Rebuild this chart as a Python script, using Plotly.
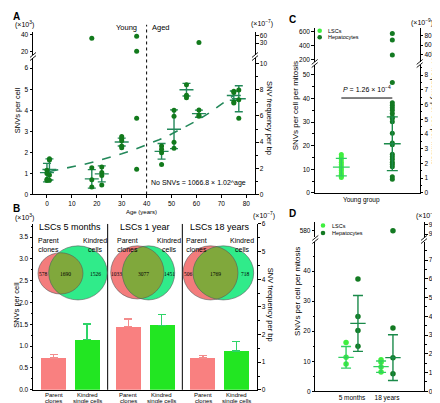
import numpy as np
import plotly.graph_objects as go

W, H = 440, 403
def fx(px): return px / W
def fy(py): return 1 - py / H

FONT = "Liberation Sans, Arial, sans-serif"
SERIF = "Liberation Serif, serif"

# ---------------- DATA ----------------
# Panel A : SNVs per cell (x10^3) vs donor age
A_ages  = [0, 1, 18, 22, 30, 46, 51, 56, 61, 75, 77]
A_points = [
    [1.15, 1.00, 0.72, 0.66],
    [1.70, 1.64, 0.92, 0.68],
    [1.27, 0.70, 0.35],
    [1.30, 1.05, 0.90, 0.45],
    [2.75, 2.65, 2.55, 2.30, 2.22],
    [2.30, 2.15, 1.98, 1.43],
    [4.00, 3.72, 2.48, 2.20],
    [5.22, 4.72, 4.60],
    [4.02, 3.78, 3.72],
    [4.90, 4.85, 4.40, 4.35],
    [4.97, 4.50, 3.62],
]
A_means = [1.04, 1.19, 0.74, 0.98, 2.49, 2.05, 3.10, 4.98, 3.84, 4.70, 4.55]
A_sds   = [0.44, 0.50, 0.44, 0.38, 0.19, 0.37, 0.92, 0.30, 0.17, 0.22, 0.62]
A_single_ages = [36, 36]
A_single_vals = [3.62, 1.20]
A_high_ages = [18, 36, 36, 61]
A_high_vals = [35.9, 38.4, 20.0, 30.8]
FIT_A, FIT_B = 1066.8, 1.02          # No SNVs = 1066.8 x 1.02^age
A_fit_ages = [1, 5, 10, 15, 20, 25, 30, 35, 40, 45, 50, 55, 60, 65, 70, 75]
A_xticks = [0, 10, 20, 30, 40, 50, 60, 70, 80]

# Panel B : SNVs per cell (x10^3), parent clones vs kindred single cells
B_titles = ["LSCs 5 months", "LSCs 1 year", "LSCs 18 years"]
B_cats = [("Parent", "clones"), ("Kindred", "single cells")]
B_parent = [0.73, 1.45, 0.73]
B_parent_err = [0.08, 0.17, 0.06]
B_kindred = [1.15, 1.48, 0.89]
B_kindred_err = [0.36, 0.25, 0.22]
B_venn_parent_only = [578, 1033, 506]
B_venn_shared = [1690, 3077, 1769]
B_venn_kindred_only = [1526, 1451, 718]

# Panel C : SNVs per cell per mitosis, young group
C_lsc = [16.2, 15.2, 14.0, 13.0, 12.0, 11.0, 10.2, 9.5, 8.5, 7.8, 7.0, 6.5]
C_lsc_mean, C_lsc_sd = 10.9, 3.7
C_hep = [46.8, 38.2, 37.1, 36.1, 35.0, 33.6, 32.2, 31.5, 30.1, 25.3, 21.1, 20.4,
         16.3, 15.3, 14.2, 13.0, 12.1, 11.1, 6.8, 5.8]
C_hep_high = [573, 480, 265]
C_hep_mean, C_hep_sd = 20.8, 11.4
C_pvalue = "1.26 × 10<sup>−4</sup>"

# Panel D : SNVs per cell per mitosis, 5 months vs 18 years
D_groups = ["5 months", "18 years"]
D_lsc = [[16.2, 11.3, 9.1], [10.5, 9.7, 8.1, 6.4]]
D_lsc_mean = [11.3, 8.2]
D_lsc_sd = [3.6, 1.9]
D_hep = [[37.4, 24.9, 20.2, 15.0], [21.1, 11.2, 5.8]]
D_hep_mean = [22.6, 11.2]
D_hep_sd = [9.3, 7.6]
D_hep_high = [None, 580]

# ---------------- STYLE ----------------
A_DOT = "#127a1c"; A_ERR = "#23885a"
LSC_DOT = "#3fef3f"; LSC_ERR = "#30d060"
HEP_DOT = "#137a22"; HEP_ERR = "#1a8a4a"
PAR_BAR = "#f98080"; PAR_ERR = "#f38c8c"
KIN_BAR = "#22e622"; KIN_ERR = "#2ed468"
V_RED = "#f37c7c"; V_GREEN = "#30eb8a"; V_BOTH = "#80a83c"

def ax(**kw):
    d = dict(showline=True, linecolor="black", linewidth=1, ticks="outside", ticklen=2.5,
             tickwidth=1, tickcolor="black", showgrid=False, zeroline=False,
             tickfont=dict(size=6.5, color="black", family=FONT))
    d.update(kw)
    return d

MINOR = lambda dt: dict(dtick=dt, ticks="outside", ticklen=1.5, tickcolor="black", showgrid=False)

fig = go.Figure()
def dummy(xa, ya):
    fig.add_trace(go.Scatter(x=[None], y=[None], xaxis=xa, yaxis=ya, showlegend=False,
                             hoverinfo="skip"))

# ---------- Panel A ----------
fit_y = [FIT_A / 1000 * FIT_B ** a for a in A_fit_ages]
fig.add_trace(go.Scatter(x=A_fit_ages, y=fit_y, mode="lines", xaxis="x", yaxis="y",
                         line=dict(color=A_ERR, width=1.6, dash="dash"), showlegend=False))
ax_x, ax_y = [], []
for a, pts in zip(A_ages, A_points):
    ax_x += [a] * len(pts); ax_y += pts
ax_x += A_single_ages; ax_y += A_single_vals
fig.add_trace(go.Scatter(x=A_ages, y=A_means, mode="markers", xaxis="x", yaxis="y",
                         marker=dict(symbol="line-ew-open", size=10, color=A_ERR,
                                     line=dict(width=1.4, color=A_ERR)),
                         error_y=dict(type="data", array=A_sds, color=A_ERR, thickness=1.4, width=4),
                         showlegend=False))
fig.add_trace(go.Scatter(x=ax_x, y=ax_y, mode="markers", xaxis="x", yaxis="y",
                         marker=dict(size=5, color=A_DOT), showlegend=False, cliponaxis=False))
fig.add_trace(go.Scatter(x=A_high_ages, y=A_high_vals, mode="markers", xaxis="x", yaxis="y2",
                         marker=dict(size=5, color=A_DOT), showlegend=False, cliponaxis=False))
dummy("x", "y3"); dummy("x", "y4")

# ---------- Panel B ----------
B_left, B_right = 25, 249
B_bot, B_top = 384.5, 215.7
sw = (B_right - B_left) / 3
for i in range(3):
    xa = f"x{5 + i}"
    fig.add_trace(go.Bar(x=[0], y=[B_parent[i]], width=0.75, xaxis=xa, yaxis="y5",
                         marker=dict(color=PAR_BAR, line=dict(width=0)),
                         error_y=dict(type="data", array=[B_parent_err[i]], arrayminus=[0],
                                      symmetric=False, color=PAR_ERR, thickness=1.4, width=4),
                         showlegend=False))
    fig.add_trace(go.Bar(x=[1], y=[B_kindred[i]], width=0.75, xaxis=xa, yaxis="y5",
                         marker=dict(color=KIN_BAR, line=dict(width=0)),
                         error_y=dict(type="data", array=[B_kindred_err[i]], arrayminus=[0],
                                      symmetric=False, color=KIN_ERR, thickness=1.4, width=4),
                         showlegend=False))
dummy("x7", "y6")

# ---------- Panel C ----------
C_X_LSC, C_X_HEP = 1, 2
fig.add_trace(go.Scatter(x=[C_X_LSC] * len(C_lsc), y=C_lsc, mode="markers", xaxis="x8", yaxis="y7",
                         marker=dict(size=5, color=LSC_DOT), showlegend=False))
fig.add_trace(go.Scatter(x=[C_X_HEP] * len(C_hep), y=C_hep, mode="markers", xaxis="x8", yaxis="y7",
                         marker=dict(size=5, color=HEP_DOT), showlegend=False))
fig.add_trace(go.Scatter(x=[C_X_HEP] * len(C_hep_high), y=C_hep_high, mode="markers", xaxis="x8",
                         yaxis="y8", marker=dict(size=5, color=HEP_DOT), showlegend=False,
                         cliponaxis=False))
for xv, m, s, c in [(C_X_LSC, C_lsc_mean, C_lsc_sd, LSC_ERR), (C_X_HEP, C_hep_mean, C_hep_sd, HEP_ERR)]:
    fig.add_trace(go.Scatter(x=[xv], y=[m], mode="markers", xaxis="x8", yaxis="y7",
                             marker=dict(symbol="line-ew-open", size=12, color=c, line=dict(width=1.4, color=c)),
                             error_y=dict(type="data", array=[s], color=c, thickness=1.4, width=5.5),
                             showlegend=False))
dummy("x8", "y9"); dummy("x8", "y10")

# ---------- Panel D ----------
D_off = 0.17
for gi in range(2):
    xl, xh = gi + 1 - D_off, gi + 1 + D_off
    fig.add_trace(go.Scatter(x=[xl] * len(D_lsc[gi]), y=D_lsc[gi], mode="markers", xaxis="x9",
                             yaxis="y11", marker=dict(size=5.5, color=LSC_DOT), showlegend=False))
    fig.add_trace(go.Scatter(x=[xh] * len(D_hep[gi]), y=D_hep[gi], mode="markers", xaxis="x9",
                             yaxis="y11", marker=dict(size=5.5, color=HEP_DOT), showlegend=False))
    for xv, m, s, c in [(xl, D_lsc_mean[gi], D_lsc_sd[gi], LSC_ERR), (xh, D_hep_mean[gi], D_hep_sd[gi], HEP_ERR)]:
        fig.add_trace(go.Scatter(x=[xv], y=[m], mode="markers", xaxis="x9", yaxis="y11",
                                 marker=dict(symbol="line-ew-open", size=11, color=c, line=dict(width=1.4, color=c)),
                                 error_y=dict(type="data", array=[s], color=c, thickness=1.4, width=5),
                                 showlegend=False))
    if D_hep_high[gi] is not None:
        fig.add_trace(go.Scatter(x=[xh], y=[D_hep_high[gi]], mode="markers", xaxis="x9", yaxis="y12",
                                 marker=dict(size=5.5, color=HEP_DOT), showlegend=False, cliponaxis=False))
dummy("x9", "y13"); dummy("x9", "y14")

# ---------------- AXES ----------------
lay = dict(
    # A
    xaxis=ax(domain=[fx(25), fx(247)], range=[-5.6, 83.5], anchor="y", tickvals=A_xticks),
    yaxis=ax(domain=[fy(185.7), fy(46.5)], range=[0, 6.5], anchor="x", dtick=1),
    yaxis2=ax(domain=[fy(44), fy(20)], range=[15.2, 44], anchor="x", tickvals=[20, 40]),
    yaxis3=ax(overlaying="y", side="right", anchor="x", range=[0, 10.45], dtick=2, minor=MINOR(1)),
    yaxis4=ax(overlaying="y2", side="right", anchor="x", range=[-19.9, 77.4], tickvals=[30, 60]),
    # B
    yaxis5=ax(domain=[fy(B_bot), fy(B_top)], range=[0, 3.8], anchor="x5", dtick=0.5,
              tickformat=".1f", minor=MINOR(0.25)),
    yaxis6=ax(overlaying="y5", side="right", anchor="x7", range=[0, 6], dtick=1, minor=MINOR(0.5)),
    # C
    xaxis8=ax(domain=[fx(306.7), fx(411.7)], range=[0.478, 2.537], anchor="y7",
              tickvals=[1.39], ticktext=["Young group"], ticks=""),
    yaxis7=ax(domain=[fy(184), fy(53.7)], range=[0, 54.3], anchor="x8", dtick=10, minor=MINOR(5)),
    yaxis8=ax(domain=[fy(51), fy(16.7)], range=[161.8, 646.6], anchor="x8", tickvals=[200, 400, 600]),
    yaxis9=ax(overlaying="y7", side="right", anchor="x8", range=[0, 8.71], dtick=1, minor=MINOR(0.5)),
    yaxis10=ax(overlaying="y8", side="right", anchor="x8", range=[24, 95], tickvals=[40, 60, 80]),
    # D
    xaxis9=ax(domain=[fx(307.3), fx(416)], range=[-0.049, 3.057], anchor="y11",
              tickvals=[1, 2], ticktext=D_groups, ticks=""),
    yaxis11=ax(domain=[fy(386), fy(234)], range=[0, 49.7], anchor="x9", dtick=10, minor=MINOR(5)),
    yaxis12=ax(domain=[fy(229), fy(214)], range=[571.6, 591.6], anchor="x9", tickvals=[580]),
    yaxis13=ax(overlaying="y11", side="right", anchor="x9", range=[0, 7.97], dtick=1, minor=MINOR(0.5)),
    yaxis14=ax(overlaying="y12", side="right", anchor="x9", range=[91.68, 93.29], tickvals=[92, 93]),
)
for i in range(3):
    lay[f"xaxis{5 + i}"] = ax(domain=[fx(B_left + i * sw), fx(B_left + (i + 1) * sw)],
                             range=[-0.62, 1.62], anchor="y5", showticklabels=False, ticks="")

# ---------------- SHAPES ----------------
shapes = []
def pline(x0, y0, x1, y1, **kw):
    d = dict(type="line", xref="paper", yref="paper", x0=fx(x0), y0=fy(y0), x1=fx(x1), y1=fy(y1),
             line=dict(color="black", width=kw.get("width", 1), dash=kw.get("dash", "solid")))
    shapes.append(d)

# axis breaks
for (bx, by) in [(25, 45.3), (247, 45.3), (306.7, 52.4), (411.7, 52.4), (307.3, 231.5), (416, 231.5)]:
    for o in (-1.6, 1.6):
        pline(bx - 3, by + o + 2.5, bx + 3, by + o - 2.5, width=0.9)

# Young / Aged divider
shapes.append(dict(type="line", xref="x", yref="paper", x0=40, x1=40, y0=fy(185.7), y1=fy(13),
                   line=dict(color="black", width=1, dash="dot")))
# B separators
for i in (1, 2):
    pline(B_left + i * sw, B_bot, B_left + i * sw, B_top, width=1)
# P-value bar
shapes.append(dict(type="line", xref="x8", yref="y7", x0=C_X_LSC, x1=C_X_HEP, y0=40.2, y1=40.2,
                   line=dict(color="black", width=1)))

# Venn diagrams (ellipse boxes in px: x0, y0, x1, y1)
VENN_RED = [(30, 245, 75, 287), (102.7, 238, 156, 292), (175, 238, 230, 293)]
VENN_GREEN = [(40.7, 238, 99.3, 293), (114.3, 238, 166.7, 293), (185, 238, 245.7, 293)]

def ell(box):
    x0, y0, x1, y1 = box
    return (x0 + x1) / 2, (y0 + y1) / 2, (x1 - x0) / 2, (y1 - y0) / 2

def inside(p, e):
    cx, cy, rx, ry = e
    return ((p[0] - cx) / rx) ** 2 + ((p[1] - cy) / ry) ** 2 <= 1

for i in range(3):
    er, eg = ell(VENN_RED[i]), ell(VENN_GREEN[i])
    for box, col in [(VENN_RED[i], V_RED), (VENN_GREEN[i], V_GREEN)]:
        shapes.append(dict(type="circle", xref="paper", yref="paper", x0=fx(box[0]), x1=fx(box[2]),
                           y0=fy(box[3]), y1=fy(box[1]), fillcolor=col, line=dict(width=0)))
    t = np.linspace(0, 2 * np.pi, 360, endpoint=False)
    pts = []
    for e_a, e_b in [(er, eg), (eg, er)]:
        cx, cy, rx, ry = e_a
        for tt in t:
            p = (cx + rx * np.cos(tt), cy + ry * np.sin(tt))
            if inside(p, e_b):
                pts.append(p)
    pts = np.array(pts)
    c = pts.mean(axis=0)
    order = np.argsort(np.arctan2(pts[:, 1] - c[1], pts[:, 0] - c[0]))
    pts = pts[order]
    path = "M " + " L ".join(f"{fx(p[0]):.5f},{fy(p[1]):.5f}" for p in pts) + " Z"
    shapes.append(dict(type="path", xref="paper", yref="paper", path=path, fillcolor=V_BOTH,
                       line=dict(width=0)))
    for box in (VENN_RED[i], VENN_GREEN[i]):
        shapes.append(dict(type="circle", xref="paper", yref="paper", x0=fx(box[0]), x1=fx(box[2]),
                           y0=fy(box[3]), y1=fy(box[1]), line=dict(color="#5a5a5a", width=0.6)))

# manual legends (C and D)
LEG = [((311.7, 19), (311.7, 25.7)), ((315, 217.3), (315, 225))]
for (p1, p2) in LEG:
    for (px, py), col in [(p1, LSC_DOT), (p2, HEP_DOT)]:
        shapes.append(dict(type="circle", xref="paper", yref="paper", x0=fx(px - 2.3), x1=fx(px + 2.3),
                           y0=fy(py + 2.3), y1=fy(py - 2.3), fillcolor=col, line=dict(width=0)))

# ---------------- ANNOTATIONS ----------------
ann = []
def txt(px, py, s, size=7, xa="center", ya="middle", angle=0, bold=False, family=FONT):
    if bold:
        s = f"<b>{s}</b>"
    ann.append(dict(x=fx(px), y=fy(py), xref="paper", yref="paper", text=s, showarrow=False,
                    xanchor=xa, yanchor=ya, textangle=angle,
                    font=dict(size=size, color="black", family=family)))

# A
txt(3, 5, "A", size=10, xa="left", bold=True)
txt(16, 13, "(×10<sup>3</sup>)", size=7)
txt(131, 15.5, "Young", size=7.5, xa="right")
txt(142, 15.5, "Aged", size=7.5, xa="left")
txt(9, 100, "SNVs per cell", size=7.5, angle=-90)
txt(262, 108, "SNV frequency per bp", size=7.5, angle=90)
txt(254, 12, "(×10<sup>−7</sup>)", size=7)
txt(133, 204, "Age (years)", size=6)
txt(140.5, 174, f"No SNVs = {FIT_A} × {FIT_B}^age", size=7, xa="left")

# B
txt(3, 200, "B", size=10, xa="left", bold=True)
txt(16, 209, "(×10<sup>3</sup>)", size=7)
txt(256, 207.5, "(×10<sup>−7</sup>)", size=7)
txt(9, 298, "SNVs per cell", size=7.5, angle=-90)
txt(262, 298, "SNV frequency per bp", size=7.5, angle=90)
PAR_LX = [28, 107.3, 176]
KIN_LX = [73, 146.7, 220]
for i in range(3):
    x0 = B_left + i * sw
    cx = x0 + sw / 2
    txt(cx, 218.5, B_titles[i], size=9)
    txt(PAR_LX[i], 237.5, "Parent<br>clones", size=7, xa="left")
    txt(KIN_LX[i], 237.5, "Kindred<br>cells", size=7, xa="left")
    for k, (l1, l2) in enumerate(B_cats):
        bx = x0 + (k + 0.62) / 2.24 * sw
        txt(bx, 389.3, l1, size=6)
        txt(bx, 395.8, l2, size=6)
    left_x = (VENN_RED[i][0] + VENN_GREEN[i][0]) / 2
    right_x = (VENN_RED[i][2] + VENN_GREEN[i][2]) / 2
    mid_x = (VENN_GREEN[i][0] + VENN_RED[i][2]) / 2
    txt(left_x, 267, str(B_venn_parent_only[i]), size=5.5, family=SERIF)
    txt(mid_x, 267, str(B_venn_shared[i]), size=5.5, family=SERIF)
    txt(right_x, 267, str(B_venn_kindred_only[i]), size=5.5, family=SERIF)

# C
txt(279, 8, "C", size=10, xa="left", bold=True)
txt(318, 19, "LSCs", size=5.5, xa="left")
txt(318, 25.7, "Hepatocytes", size=5.5, xa="left")
txt(287, 96, "SNVs per cell per mitosis", size=8, angle=-90)
txt(426.5, 97, "SNV frequency per cell per mitosis", size=7.5, angle=90)
txt(414, 10.5, "(×10<sup>−9</sup>)", size=7)
ann.append(dict(x=1.5, y=41.5, xref="x8", yref="y7", text=f"<i>P</i> = {C_pvalue}", showarrow=False,
                xanchor="center", yanchor="bottom", font=dict(size=7, color="black", family=FONT)))

# D
txt(279, 205, "D", size=10, xa="left", bold=True)
txt(321.5, 217.3, "LSCs", size=5.5, xa="left")
txt(321.5, 225, "Hepatocytes", size=5.5, xa="left")
txt(289, 285, "SNVs per cell per mitosis", size=8, angle=-90)
txt(428.5, 300, "SNV frequency per cell per mitosis", size=7.5, angle=90)
txt(419, 207, "(×10<sup>−9</sup>)", size=7)

fig.update_layout(**lay)
fig.update_layout(width=W, height=H, margin=dict(l=0, r=0, t=0, b=0), showlegend=False,
                  paper_bgcolor="white", plot_bgcolor="rgba(0,0,0,0)", shapes=shapes,
                  annotations=ann, font=dict(family=FONT, color="black"), bargap=0)
fig.write_html("out.html")
